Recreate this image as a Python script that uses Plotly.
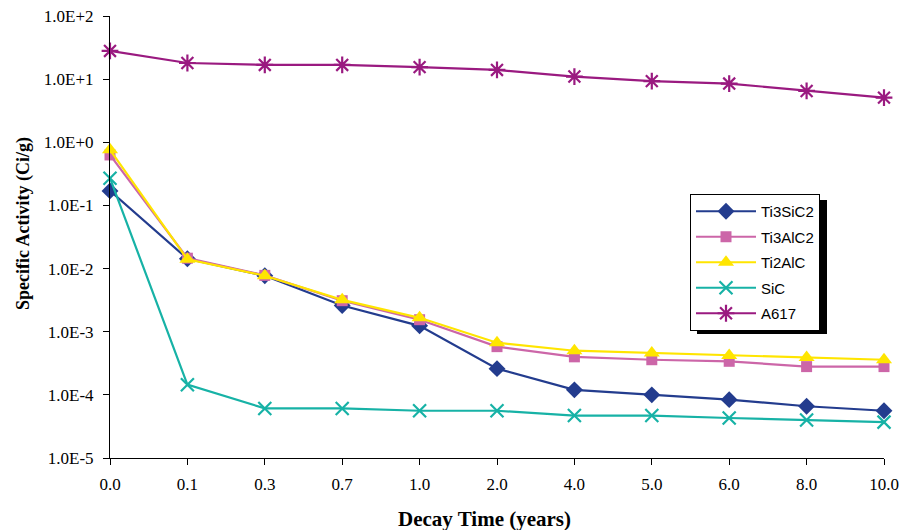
import plotly.graph_objects as go

categories = ["0.0", "0.1", "0.3", "0.7", "1.0", "2.0", "4.0", "5.0", "6.0", "8.0", "10.0"]

ti3sic2 = [0.17, 0.0143, 0.0077, 0.0026, 0.00124, 2.6e-4, 1.2e-4, 1.0e-4, 8.4e-5, 6.6e-5, 5.6e-5]
ti3alc2 = [0.63, 0.0146, 0.0078, 0.0031, 0.00155, 5.8e-4, 4.0e-4, 3.6e-4, 3.4e-4, 2.8e-4, 2.8e-4]
ti2alc = [0.76, 0.0140, 0.0077, 0.0032, 0.00166, 6.7e-4, 5.0e-4, 4.6e-4, 4.2e-4, 3.9e-4, 3.6e-4]
sic = [0.27, 1.45e-4, 6.1e-5, 6.1e-5, 5.6e-5, 5.6e-5, 4.7e-5, 4.7e-5, 4.3e-5, 4.0e-5, 3.7e-5]
a617 = [28.0, 18.0, 16.8, 16.8, 15.5, 14.0, 11.0, 9.3, 8.5, 6.5, 5.1]

ytickvals = [1e-5, 1e-4, 1e-3, 1e-2, 1e-1, 1e0, 1e1, 1e2]
yticktext = ["1.0E-5", "1.0E-4", "1.0E-3", "1.0E-2", "1.0E-1", "1.0E+0", "1.0E+1", "1.0E+2"]

series = [
    ("Ti3SiC2", ti3sic2, "#233C8E", "diamond", 13, None),
    ("Ti3AlC2", ti3alc2, "#CC66A8", "square", 11, None),
    ("Ti2AlC", ti2alc, "#FFE500", "triangle-up", 14, None),
    ("SiC", sic, "#17B2A6", "x-thin-open", 13, 2.2),
    ("A617", a617, "#9A1A80", "asterisk-open", 14, 2.2),
]

fig = go.Figure()
for name, vals, color, sym, size, lw in series:
    marker = dict(symbol=sym, size=size, color=color)
    if lw:
        marker["line"] = dict(color=color, width=lw)
    else:
        marker["line"] = dict(width=0)
    fig.add_trace(go.Scatter(
        x=categories, y=vals, name=name, mode="lines+markers",
        line=dict(color=color, width=2.2), marker=marker,
        cliponaxis=False, legendgroup=name,
    ))

L, R, T, B = 110, 15, 16, 72
W, H = 899, 530
pw, ph = W - L - R, H - T - B

def px_x(x):
    return (x - L) / pw

def px_y(y):
    return (H - B - y) / ph

fig.add_shape(type="rect", xref="paper", yref="paper",
              x0=px_x(697), x1=px_x(827), y0=px_y(334), y1=px_y(200),
              fillcolor="black", line=dict(width=0), layer="below")

fig.add_annotation(text="<b>Specific Activity (Ci/g)</b>", xref="paper", yref="paper",
                   x=px_x(23), y=px_y(224), textangle=-90, showarrow=False,
                   xanchor="center", yanchor="middle",
                   font=dict(family="Liberation Serif", size=18, color="black"))
fig.add_annotation(text="<b>Decay Time (years)</b>", xref="paper", yref="paper",
                   x=px_x(484), y=px_y(519), showarrow=False,
                   xanchor="center", yanchor="middle",
                   font=dict(family="Liberation Serif", size=21, color="black"))

fig.update_layout(
    width=W, height=H,
    margin=dict(l=L, r=R, t=T, b=B),
    paper_bgcolor="white", plot_bgcolor="white",
    font=dict(family="Liberation Serif", color="black"),
    showlegend=True,
    legend=dict(
        x=px_x(690), y=px_y(194), xanchor="left", yanchor="top",
        bgcolor="white", bordercolor="black", borderwidth=1,
        font=dict(family="Liberation Sans", size=15, color="black"),
        tracegroupgap=3, itemwidth=60,
    ),
    xaxis=dict(
        type="category", range=[0, 10], showgrid=False, zeroline=False,
        showline=True, linecolor="black", linewidth=1, automargin=False,
        ticks="outside", ticklen=6, tickcolor="black",
        tickfont=dict(family="Liberation Serif", size=17),
        ticklabelstandoff=5,
    ),
    yaxis=dict(
        type="log", range=[-5, 2], showgrid=False, zeroline=False,
        showline=True, linecolor="black", linewidth=1, automargin=False,
        ticks="outside", ticklen=6, tickcolor="black",
        tickvals=ytickvals, ticktext=yticktext,
        tickfont=dict(family="Liberation Serif", size=17),
        ticklabelstandoff=6,
    ),
)

fig.write_html("out.html", config={"displayModeBar": False},
               post_script="document.body.style.margin='0';document.body.style.padding='0';")
